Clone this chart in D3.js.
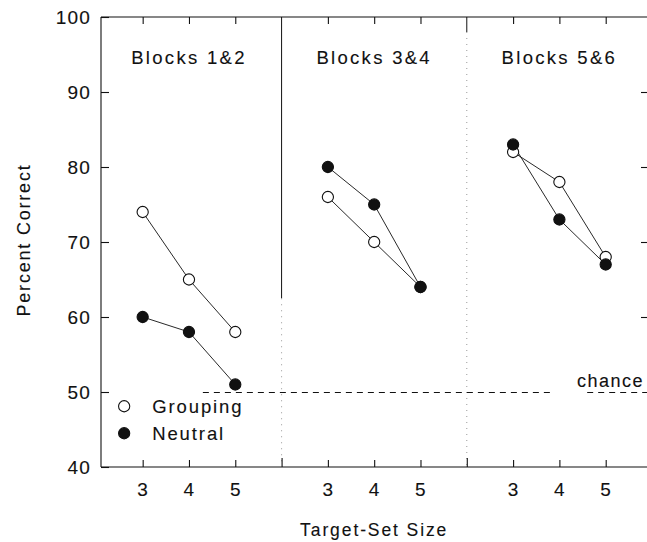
<!DOCTYPE html>
<html>
<head>
<meta charset="utf-8">
<script src="https://cdn.jsdelivr.net/npm/d3@7"></script>
<style>
  body { margin: 0; background: white; }
  text { font-family: "Liberation Sans", Arial, sans-serif; fill: #111; stroke: #111; stroke-width: 0.12px; }
</style>
</head>
<body>
<script>
// data
const panels = ["Blocks 1&2", "Blocks 3&4", "Blocks 5&6"]
const setSizes = [3, 4, 5]
const grouping = [[74, 65, 58], [76, 70, 64], [82, 78, 68]]
const neutral = [[60, 58, 51], [80, 75, 64], [83, 73, 67]]
const yTicks = [40, 50, 60, 70, 80, 90, 100]
const chance = 50

const [width, height] = [647, 542]
const margin = { top: 17, right: -5, bottom: 75, left: 101 }
const colors = { ink: "#111", faint: "#999", white: "white" }
const r = 5.6

// each panel takes 4 slots on a shared x axis: sizes 3..5, divider at 6
const pos = (i, s) => i * 4 + s

const x = d3.scaleLinear()
    .domain([2.1, 14])
    .range([margin.left, width - margin.right])
const y = d3.scaleLinear()
    .domain([40, 100])
    .range([height - margin.bottom, margin.top])

const svg = d3.select("body")
    .append("svg")
        .attr("width", width)
        .attr("height", height)

// frame lines
const frame = svg.append("g").attr("stroke", colors.ink).attr("stroke-width", 1.1)
frame.append("line")
    .attr("x1", x(2.1)).attr("x2", x(2.1))
    .attr("y1", y(100)).attr("y2", y(40))
frame.append("line")
    .attr("x1", x(2.1)).attr("x2", x(14))
    .attr("y1", y(100)).attr("y2", y(100))
frame.append("line")
    .attr("x1", x(2.1)).attr("x2", x(14))
    .attr("y1", y(40)).attr("y2", y(40))

// panel dividers (solid on top, fading to dotted like the scan)
const dividers = [6, 10]
svg.append("g").selectAll("line.solid")
    .data([[6, 62.5], [10, 98]])
    .join("line")
        .attr("x1", d => x(d[0])).attr("x2", d => x(d[0]))
        .attr("y1", y(100)).attr("y2", d => y(d[1]))
        .attr("stroke", colors.ink).attr("stroke-width", 1)
svg.append("g").selectAll("line.dots")
    .data([[6, 62.5], [10, 98]])
    .join("line")
        .attr("x1", d => x(d[0])).attr("x2", d => x(d[0]))
        .attr("y1", d => y(d[1])).attr("y2", y(40))
        .attr("stroke", colors.faint).attr("stroke-width", 1)
        .attr("stroke-dasharray", "1,5")

// axes
const tickPos = panels.flatMap((p, i) => setSizes.map(s => pos(i, s)))
const axisStyle = g => {
    g.select(".domain").remove()
    g.selectAll(".tick line").attr("stroke", colors.ink).attr("stroke-width", 1.1)
    g.selectAll(".tick text")
        .style("font-size", "19px")
        .style("letter-spacing", "1.2px")
        .attr("fill", colors.ink)
}

svg.append("g")
    .attr("transform", `translate(${x(2.1)},0)`)
    .call(d3.axisLeft(y).tickValues(yTicks).tickSize(-8).tickPadding(10))
    .call(axisStyle)

svg.append("g")
    .attr("transform", `translate(${x(14) - 5},0)`)
    .call(d3.axisRight(y).tickValues([60, 70, 80, 90]).tickSize(-6).tickFormat(""))
    .call(axisStyle)

svg.append("g")
    .attr("transform", `translate(0,${y(40)})`)
    .call(d3.axisBottom(x).tickValues(tickPos).tickSize(-7).tickPadding(16)
        .tickFormat(d => setSizes[(d - 3) % 4]))
    .call(axisStyle)

svg.append("g")
    .attr("transform", `translate(0,${y(40)})`)
    .call(d3.axisBottom(x).tickValues(dividers).tickSize(-9).tickFormat(""))
    .call(axisStyle)

svg.append("g")
    .attr("transform", `translate(0,${y(100)})`)
    .call(d3.axisTop(x).tickValues(tickPos).tickSize(-7).tickFormat(""))
    .call(axisStyle)

// chance line
svg.append("g")
    .attr("stroke", colors.ink)
    .attr("stroke-width", 1)
    .attr("stroke-dasharray", "6,5")
    .selectAll("line")
    .data([[4.3, 11.85], [12.6, 14]])
    .join("line")
        .attr("x1", d => x(d[0])).attr("x2", d => x(d[1]))
        .attr("y1", Math.round(y(chance)) + 0.5).attr("y2", Math.round(y(chance)) + 0.5)
svg.append("text")
    .attr("x", x(14) - 8)
    .attr("y", y(chance) - 5)
    .attr("text-anchor", "end")
    .style("font-size", "18px")
    .style("letter-spacing", "1.5px")
    .text("chance")

// panel titles
svg.append("g").selectAll("text")
    .data(panels)
    .join("text")
        .attr("x", (d, i) => x(pos(i, 4)))
        .attr("y", 64)
        .attr("text-anchor", "middle")
        .style("font-size", "18.5px")
        .style("letter-spacing", "2.3px")
        .text(d => d)

// series
const series = [
    { name: "Grouping", values: grouping, fill: colors.white },
    { name: "Neutral", values: neutral, fill: colors.ink }
]
const line = d3.line().x(d => x(d[0])).y(d => y(d[1]))

series.forEach(s => {
    const g = svg.append("g")
    s.values.forEach((vals, i) => {
        const pts = vals.map((v, k) => [pos(i, setSizes[k]), v])
        g.append("path")
            .attr("d", line(pts))
            .attr("fill", "none")
            .attr("stroke", colors.ink)
            .attr("stroke-width", 0.9)
    })
})
series.forEach(s => {
    s.values.forEach((vals, i) => {
        svg.append("g").selectAll("circle")
            .data(vals.map((v, k) => [pos(i, setSizes[k]), v]))
            .join("circle")
                .attr("cx", d => x(d[0]))
                .attr("cy", d => y(d[1]))
                .attr("r", r)
                .attr("fill", s.fill)
                .attr("stroke", colors.ink)
                .attr("stroke-width", 1.1)
    })
})

// legend
const legend = svg.append("g")
    .selectAll("g")
    .data(series)
    .join("g")
        .attr("transform", (d, i) => `translate(${x(2.6)},${y(48.1) + i * 27})`)
legend.append("circle")
    .attr("r", r)
    .attr("fill", d => d.fill)
    .attr("stroke", colors.ink)
    .attr("stroke-width", 1.1)
legend.append("text")
    .attr("x", 28)
    .attr("y", 6.5)
    .style("font-size", "18.5px")
    .style("letter-spacing", "1.9px")
    .text(d => d.name)

// axis titles
svg.append("text")
    .attr("transform", `translate(30,${(y(100) + y(40)) / 2 - 2}) rotate(-90)`)
    .attr("text-anchor", "middle")
    .style("font-size", "18px")
    .style("letter-spacing", "1.8px")
    .text("Percent Correct")

svg.append("text")
    .attr("x", x(8))
    .attr("y", 536)
    .attr("text-anchor", "middle")
    .style("font-size", "17.5px")
    .style("letter-spacing", "1.9px")
    .text("Target-Set Size")
</script>
</body>
</html>
